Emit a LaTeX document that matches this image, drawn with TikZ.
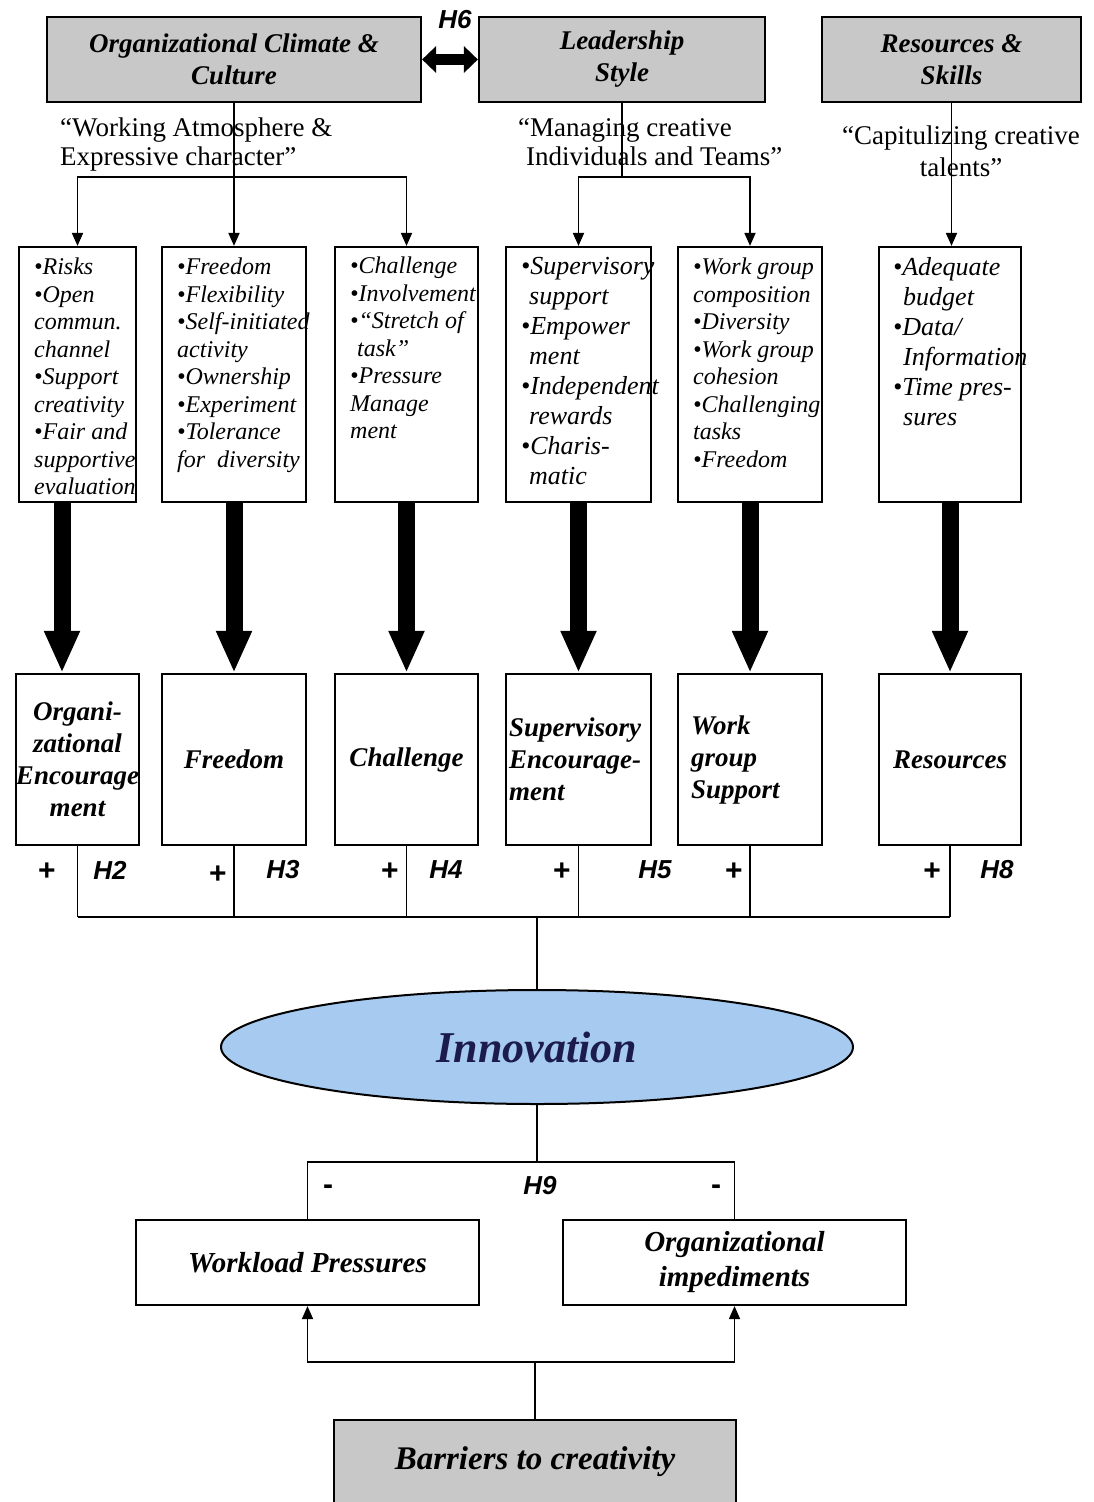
\documentclass[tikz,border=0pt]{standalone}
\usepackage{fontspec}
\setmainfont{Liberation Serif}
\newfontfamily\hsans{Liberation Sans}
\usetikzlibrary{arrows.meta,shapes.geometric}
\definecolor{boxgray}{RGB}{200,200,200}
\definecolor{innofill}{RGB}{166,202,240}
\definecolor{innotext}{RGB}{28,28,76}

\begin{document}
\begin{tikzpicture}[x=1pt,y=-1pt,
  frame/.style={draw=black, line width=2.2pt, inner sep=0pt},
  topbox/.style={frame, fill=boxgray, align=center,
    font=\fontsize{27}{32}\selectfont\bfseries\itshape},
  listbox/.style={frame, fill=white},
  dimbox/.style={frame, fill=white, align=center,
    font=\fontsize{27}{32}\selectfont\bfseries\itshape},
  conn/.style={draw=black, line width=1.8pt},
  tipsmall/.style={-{Triangle[width=11pt,length=13pt]}},
  bigarrow/.style={draw=black, line width=17pt, -{Triangle[width=33pt,length=42pt]}},
  listtext/.style={anchor=north west, inner sep=0pt, align=left,
    font=\fontsize{24}{27.5}\selectfont\itshape},
  listtextlg/.style={listtext, font=\fontsize{26}{30}\selectfont\itshape},
  quotetext/.style={inner sep=0pt, font=\fontsize{27}{29}\selectfont},
  hlabel/.style={inner sep=0pt, font=\hsans\fontsize{26}{30}\selectfont\bfseries\itshape},
  sign/.style={inner sep=0pt, font=\hsans\fontsize{30}{30}\selectfont\bfseries},
]
\useasboundingbox[fill=white] (0,0) rectangle (1093,1502);

% ---- top-level factors ----
\node[topbox, minimum width=374pt, minimum height=85pt] (occ) at (234,59.5)
  {Organizational Climate \&\\Culture};
\node[topbox, minimum width=286pt, minimum height=85pt] (lead) at (622,59.5)
  {Leadership\\Style};
\node[topbox, minimum width=259pt, minimum height=85pt] (res) at (951.5,59.5)
  {Resources \&\\Skills};

\draw[line width=11pt, {Triangle[width=26pt,length=14pt]}-{Triangle[width=26pt,length=14pt]}]
  (occ.east) -- (lead.west);
\node[hlabel] (h6) at (455,20) {H6};

% ---- descriptive quotes ----
\node[quotetext, anchor=north west, align=left] (q1) at (60,118)
  {“Working Atmosphere \&\\Expressive character”};
\node[quotetext, anchor=north west, align=left] (q2) at (518,118)
  {“Managing creative\\\hspace*{8pt}Individuals and Teams”};
\node[quotetext, align=center, font=\fontsize{27}{32}\selectfont] (q3) at (961,151)
  {“Capitulizing creative\\talents”};

% ---- item lists ----
\node[listbox, minimum width=117pt, minimum height=255pt] (b1) at (77.5,374.5) {};
\node[listbox, minimum width=144pt, minimum height=255pt] (b2) at (234,374.5) {};
\node[listbox, minimum width=143pt, minimum height=255pt] (b3) at (406.5,374.5) {};
\node[listbox, minimum width=145pt, minimum height=255pt] (b4) at (578.5,374.5) {};
\node[listbox, minimum width=144pt, minimum height=255pt] (b5) at (750,374.5) {};
\node[listbox, minimum width=142pt, minimum height=255pt] (b6) at (950,374.5) {};

\node[listtext] (t1) at (34,258)
  {•Risks\\•Open\\commun.\\channel\\•Support\\creativity\\•Fair and\\supportive\\evaluation};
\node[listtext] (t2) at (177,258)
  {•Freedom\\•Flexibility\\•Self-initiated\\activity\\•Ownership\\•Experiment\\•Tolerance\\for\ \ diversity};
\node[listtext] (t3) at (350,257)
  {•Challenge\\•Involvement\\•“Stretch of\\\hspace*{7pt}task”\\•Pressure\\Manage\\ment};
\node[listtextlg] (t4) at (521,257)
  {•Supervisory\\\hspace*{8pt}support\\•Empower\\\hspace*{8pt}ment\\•Independent\\\hspace*{8pt}rewards\\•Charis-\\\hspace*{8pt}matic};
\node[listtext] (t5) at (693,258)
  {•Work group\\composition\\•Diversity\\•Work group\\cohesion\\•Challenging\\tasks\\•Freedom};
\node[listtextlg] (t6) at (893,257)
  {•Adequate\\\hspace*{10pt}budget\\•Data/\\\hspace*{10pt}Information\\•Time pres-\\\hspace*{10pt}sures};

% ---- creativity dimensions ----
\node[dimbox, minimum width=117pt, minimum height=171pt] (d1) at (77.5,759.5)
  {Organi-\\zational\\Encourage\\ment};
\node[dimbox, minimum width=144pt, minimum height=171pt] (d2) at (234,759.5) {Freedom};
\node[dimbox, minimum width=143pt, minimum height=171pt] (d3) at (406.5,759.5) {Challenge};
\node[dimbox, align=left, inner xsep=3pt, text width=139pt,
  minimum width=145pt, minimum height=171pt] (d4) at (578.5,759.5)
  {Supervisory\\Encourage-\\ment};
\node[dimbox, align=left, inner xsep=13pt, text width=118pt,
  minimum width=144pt, minimum height=171pt] (d5) at (750,759.5)
  {Work\\group\\Support};
\node[dimbox, minimum width=142pt, minimum height=171pt] (d6) at (950,759.5) {Resources};

% ---- outcome ----
\node[ellipse, draw=black, line width=2pt, fill=innofill, inner sep=0pt,
  minimum width=632pt, minimum height=114pt, text=innotext,
  font=\fontsize{44}{48}\selectfont\bfseries\itshape] (innov) at (537,1047) {Innovation};

% ---- barriers ----
\node[frame, fill=white, minimum width=343pt, minimum height=85pt,
  font=\fontsize{29}{35}\selectfont\bfseries\itshape] (work) at (307.5,1262.5)
  {Workload Pressures};
\node[frame, fill=white, minimum width=343pt, minimum height=85pt, align=center,
  font=\fontsize{29}{35}\selectfont\bfseries\itshape] (imped) at (734.5,1262.5)
  {Organizational\\impediments};
\node[frame, fill=boxgray, minimum width=402pt, minimum height=84pt,
  font=\fontsize{33}{38}\selectfont\bfseries\itshape] (barr) at (535,1462)
  {Barriers to creativity};

% ---- connectors from the factors to the item lists ----
\coordinate (occj) at (234,177);
\coordinate (leadj) at (622,177);
\draw[conn] (occ.south) -- (occj);
\draw[conn, tipsmall] (occj) -| (b1.north);
\draw[conn, tipsmall] (occj) -- (b2.north);
\draw[conn, tipsmall] (occj) -| (b3.north);
\draw[conn] (lead.south) -- (leadj);
\draw[conn, tipsmall] (leadj) -| (b4.north);
\draw[conn, tipsmall] (leadj) -| (b5.north);
\draw[conn, tipsmall] (res.south) -- (res.south |- b6.north);

% ---- heavy arrows from the lists to the dimensions ----
\draw[bigarrow] ([xshift=-15.5pt]b1.south) -- ([xshift=-15.5pt]d1.north);
\draw[bigarrow] (b2.south) -- (d2.north);
\draw[bigarrow] (b3.south) -- (d3.north);
\draw[bigarrow] (b4.south) -- (d4.north);
\draw[bigarrow] (b5.south) -- (d5.north);
\draw[bigarrow] (b6.south) -- (d6.north);

% ---- bus into Innovation ----
\coordinate (bus) at (537,917);
\foreach \d in {d1,d2,d3,d4,d5,d6}
  \draw[conn] (\d.south) -- (\d.south |- bus);
\draw[conn] (d1.south |- bus) -- (d6.south |- bus);
\draw[conn] (bus) -- (innov.north);

\node[sign] (p1) at (47,872) {+};
\node[hlabel] (h2) at (110,870) {H2};
\node[sign] (p2) at (218,875) {+};
\node[hlabel] (h3) at (283,870) {H3};
\node[sign] (p3) at (390,872) {+};
\node[hlabel] (h4) at (446,870) {H4};
\node[sign] (p4) at (562,872) {+};
\node[hlabel] (h5) at (655,870) {H5};
\node[sign] (p5) at (734,872) {+};
\node[sign] (p6) at (932,872) {+};
\node[hlabel] (h8) at (997,870) {H8};

% ---- barriers into Innovation ----
\coordinate (hub) at (537,1162);
\draw[conn] (innov.south) -- (hub);
\draw[conn] (work.north) |- (hub) -| (imped.north);
\node[sign] (m1) at (328,1190) {-};
\node[sign] (m2) at (716,1190) {-};
\node[hlabel] (h9) at (540,1186) {H9};

\coordinate (bhub) at (535,1362);
\draw[conn] (barr.north) -- (bhub);
\draw[conn, tipsmall] (bhub) -| (work.south);
\draw[conn, tipsmall] (bhub) -| (imped.south);
\end{tikzpicture}
\end{document}
